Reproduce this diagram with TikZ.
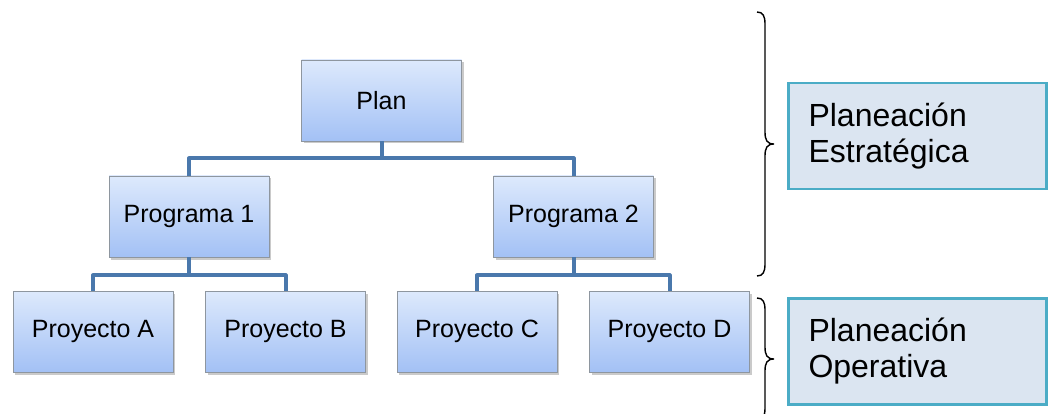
\documentclass[tikz,border=0pt]{standalone}
\usepackage{fontspec}
\setmainfont{Liberation Sans}
\usetikzlibrary{shadows}
\definecolor{boxtop}{HTML}{DDE9FC}
\definecolor{boxbot}{HTML}{A3C1F5}
\definecolor{boxline}{HTML}{8E969F}
\definecolor{conn}{HTML}{4A78AC}
\definecolor{sidefill}{HTML}{DBE5F1}
\definecolor{sideline}{HTML}{4BACC6}
\begin{document}
\begin{tikzpicture}[x=1pt,y=-1pt,
  treebox/.style={draw=boxline, line width=0.8pt, top color=boxtop, bottom color=boxbot,
    minimum width=160pt, minimum height=81pt, inner sep=0pt,
    font=\fontsize{25}{30}\selectfont,
    drop shadow={shadow xshift=2pt, shadow yshift=-2.5pt, opacity=0.35, fill=black!60}},
  connector/.style={draw=conn, line width=4pt, line join=round},
  sidebox/.style={draw=sideline, line width=2.5pt, fill=sidefill,
    minimum width=258pt, minimum height=106pt, inner sep=0pt,
    text width=218pt, align=left, font=\fontsize{32}{36}\selectfont},
  bracestyle/.style={draw=black, line width=1.4pt}]
\useasboundingbox (0,0) rectangle (1049,414);

\node[treebox] (plan) at (381.5,100.5) {Plan};
\node[treebox] (p1) at (189,216.5) {Programa 1};
\node[treebox] (p2) at (573.5,216.5) {Programa 2};
\node[treebox] (pa) at (93,331.5) {Proyecto A};
\node[treebox] (pb) at (285.5,331.5) {Proyecto B};
\node[treebox] (pc) at (477,331.5) {Proyecto C};
\node[treebox] (pd) at (669.5,331.5) {Proyecto D};

\draw[connector] (plan.south) -- ++(0,17) -| (p1.north);
\draw[connector] (plan.south) -- ++(0,17) -| (p2.north);
\draw[connector] (p1.south) -- ++(0,18) -| (pa.north);
\draw[connector] (p1.south) -- ++(0,18) -| (pb.north);
\draw[connector] (p2.south) -- ++(0,18) -| (pc.north);
\draw[connector] (p2.south) -- ++(0,18) -| (pd.north);

\node[sidebox] (est) at (917.5,136) {Planeación\\Estratégica};
\node[sidebox] (ope) at (917.5,351.5) {Planeación\\Operativa};

% braces
\coordinate (b1top) at (757,12);
\coordinate (b1tip) at (774,144);
\coordinate (b1bot) at (757,276);
\draw[bracestyle] (b1top) .. controls (763,12) and (765,16) .. (765,24) -- (765,132)
  .. controls (765,140) and (767,144) .. (b1tip)
  .. controls (767,144) and (765,148) .. (765,156) -- (765,264)
  .. controls (765,272) and (763,276) .. (b1bot);
\coordinate (b2top) at (757,298);
\coordinate (b2tip) at (774,359);
\coordinate (b2bot) at (757,420);
\draw[bracestyle] (b2top) .. controls (763,298) and (765,302) .. (765,310) -- (765,347)
  .. controls (765,355) and (767,359) .. (b2tip)
  .. controls (767,359) and (765,363) .. (765,371) -- (765,408)
  .. controls (765,416) and (763,420) .. (b2bot);
\end{tikzpicture}
\end{document}
